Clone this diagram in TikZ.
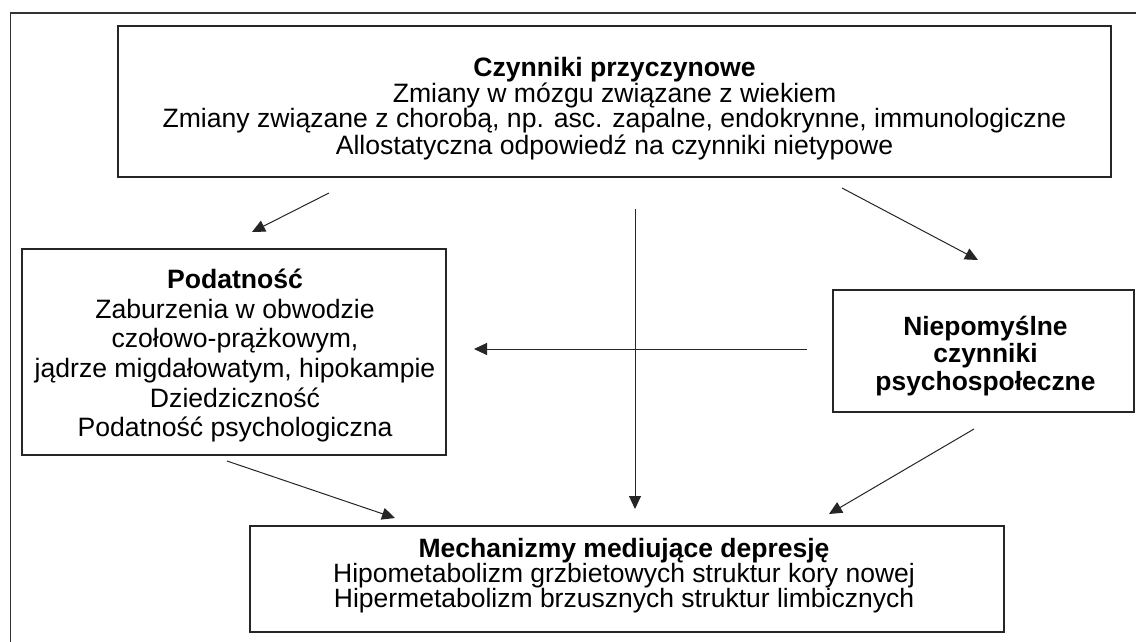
\documentclass[tikz,border=0pt]{standalone}
\usepackage{fontspec}
\setmainfont{Liberation Sans}
\usetikzlibrary{arrows.meta,calc}
\begin{document}
\begin{tikzpicture}[x=1pt,y=-1pt,
  box/.style={draw=black!85, line width=1.2pt, inner sep=0pt},
  txt/.style={inner sep=0pt, align=center, text=black},
  conn/.style={draw=black!85, line width=1pt, -{Triangle[length=13pt,width=12pt]}}]
\useasboundingbox (0,0) rectangle (1136,642);
\fill[white] (0,0) rectangle (1136,642);
% outer frame (cut at the right and bottom)
\draw[black!80, line width=1.2pt] (10.5,642) -- (10.5,13) -- (1136,13);

% boxes
\node[box, minimum width=993pt, minimum height=151pt] (cause) at (614.5,101.5) {};
\node[box, minimum width=424pt, minimum height=206pt] (vuln) at (234,352) {};
\node[box, minimum width=301pt, minimum height=122pt] (psych) at (983.5,351) {};
\node[box, minimum width=754pt, minimum height=106pt] (mech) at (627,579) {};

% texts
\node[txt, font=\fontsize{26.6}{25}\selectfont] (causet) at (614.5,108.6)
  {\textbf{Czynniki przyczynowe}\\
   Zmiany w mózgu związane z wiekiem\\
   Zmiany związane z chorobą, np. asc. zapalne, endokrynne, immunologiczne\\
   Allostatyczna odpowiedź na czynniki nietypowe};
\node[txt, font=\fontsize{26.6}{29.7}\selectfont] (vulnt) at (235,355.7)
  {\textbf{Podatność}\\
   Zaburzenia w obwodzie\\
   czołowo-prążkowym,\\
   jądrze migdałowatym, hipokampie\\
   Dziedziczność\\
   Podatność psychologiczna};
\node[txt, font=\fontsize{26.4}{27.2}\bfseries\selectfont] (psycht) at (985.5,356)
  {Niepomyślne\\ czynniki\\ psychospołeczne};
\node[txt, font=\fontsize{26.5}{25}\selectfont] (mecht) at (624,576.1)
  {\textbf{Mechanizmy mediujące depresję}\\
   Hipometabolizm grzbietowych struktur kory nowej\\
   Hipermetabolizm brzusznych struktur limbicznych};

% connector end points
\coordinate (a1s) at (329,193);  \coordinate (a1e) at (252,232);
\coordinate (a2s) at (842,188);  \coordinate (a2e) at (978,260);
\coordinate (avs) at (635,209);  \coordinate (ave) at (635,509);
\coordinate (ahs) at (807,349);  \coordinate (ahe) at (474,349);
\coordinate (a3s) at (227,461);  \coordinate (a3e) at (395,518);
\coordinate (a5s) at (974,429);  \coordinate (a5e) at (829,514);

\draw[conn] (a1s) -- (a1e);
\draw[conn] (a2s) -- (a2e);
\draw[conn] (avs) -- (ave);
\draw[conn] (ahs) -- (ahe);
\draw[conn] (a3s) -- (a3e);
\draw[conn] (a5s) -- (a5e);
\end{tikzpicture}
\end{document}
